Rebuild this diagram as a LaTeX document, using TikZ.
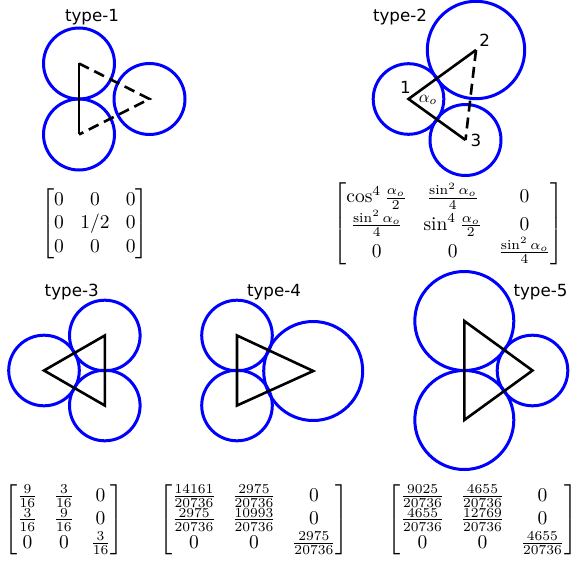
\documentclass[tikz,border=0pt]{standalone}
\usepackage{amsmath}
\usepackage{fontspec}
\newfontfamily\labelfont{DejaVu Sans}
\usepackage{xcolor}
\definecolor{ringblue}{RGB}{0,0,255}
\usepackage{tikz}
\setlength{\arraycolsep}{4.2pt}

\begin{document}
\begin{tikzpicture}[
  x=1pt, y=-1pt,
  ring/.style={draw=ringblue, line width=3pt},
  bond/.style={draw=black, line width=2.6pt},
  gapbond/.style={bond, dash pattern=on 11pt off 6pt},
  title/.style={font=\labelfont\fontsize{16.7}{20}\selectfont, anchor=base, inner sep=0pt},
  vlabel/.style={font=\labelfont\fontsize{16.7}{20}\selectfont, inner sep=0pt},
  mat/.style={scale=1.95, inner sep=0pt},
]
\useasboundingbox (0,0) rectangle (571,572);

% type-1
\coordinate (t1a) at (79,63.5);
\coordinate (t1b) at (79,134.5);
\coordinate (t1c) at (149.5,99);
\draw[ring] (t1a) circle[radius=35.5pt];
\draw[ring] (t1b) circle[radius=35.5pt];
\draw[ring] (t1c) circle[radius=35.5pt];
\draw[bond] (t1a) -- (t1b);
\draw[gapbond] (t1a) -- (t1c) -- (t1b);
\node[title] (lab1) at (92,22) {type-1};
\node[mat] (mat1) at (95,224) {$\begin{bmatrix}0&0&0\\0&1/2&0\\0&0&0\end{bmatrix}$};

% type-2
\coordinate (t2a) at (408.5,99);
\coordinate (t2b) at (476,50);
\coordinate (t2c) at (465.5,140);
\draw[ring] (t2a) circle[radius=35.3pt];
\draw[ring] (t2b) circle[radius=48.7pt];
\draw[ring] (t2c) circle[radius=35.5pt];
\draw[bond] (t2b) -- (t2a) -- (t2c);
\draw[gapbond] (t2b) -- (t2c);
\node[vlabel] (n1) at (405.5,87) {1};
\node[vlabel] (n2) at (484.7,40.3) {2};
\node[vlabel] (n3) at (476,140.5) {3};
\node[scale=1.67, inner sep=0pt] (ang) at (428,100) {$\alpha_o$};
\node[title] (lab2) at (400,22) {type-2};
\node[mat] (mat2) at (448.5,223.5) {$\begin{bmatrix}\cos^4\frac{\alpha_o}{2}&\frac{\sin^2\alpha_o}{4}&0\\\frac{\sin^2\alpha_o}{4}&\sin^4\frac{\alpha_o}{2}&0\\0&0&\frac{\sin^2\alpha_o}{4}\end{bmatrix}$};

% type-3
\coordinate (t3a) at (44,370.5);
\coordinate (t3b) at (104.8,335.5);
\coordinate (t3c) at (104.8,405.5);
\draw[ring] (t3a) circle[radius=35.3pt];
\draw[ring] (t3b) circle[radius=35.3pt];
\draw[ring] (t3c) circle[radius=35.3pt];
\draw[bond] (t3a) -- (t3b) -- (t3c) -- cycle;
\node[title] (lab3) at (71.7,296.5) {type-3};
\node[mat] (mat3) at (64,520) {$\begin{bmatrix}\frac{9}{16}&\frac{3}{16}&0\\\frac{3}{16}&\frac{9}{16}&0\\0&0&\frac{3}{16}\end{bmatrix}$};

% type-4
\coordinate (t4a) at (237,335.5);
\coordinate (t4b) at (237,405.5);
\coordinate (t4c) at (313.2,371);
\draw[ring] (t4a) circle[radius=35.3pt];
\draw[ring] (t4b) circle[radius=35.3pt];
\draw[ring] (t4c) circle[radius=49.5pt];
\draw[bond] (t4a) -- (t4b) -- (t4c) -- cycle;
\node[title] (lab4) at (274,296.5) {type-4};
\node[mat] (mat4) at (254,520) {$\begin{bmatrix}\frac{14161}{20736}&\frac{2975}{20736}&0\\\frac{2975}{20736}&\frac{10993}{20736}&0\\0&0&\frac{2975}{20736}\end{bmatrix}$};

% type-5
\coordinate (t5a) at (464.3,321);
\coordinate (t5b) at (464.3,420);
\coordinate (t5c) at (532.5,370.5);
\draw[ring] (t5a) circle[radius=49.5pt];
\draw[ring] (t5b) circle[radius=49.5pt];
\draw[ring] (t5c) circle[radius=35.3pt];
\draw[bond] (t5a) -- (t5b) -- (t5c) -- cycle;
\node[title] (lab5) at (540.5,296) {type-5};
\node[mat] (mat5) at (482.5,520) {$\begin{bmatrix}\frac{9025}{20736}&\frac{4655}{20736}&0\\\frac{4655}{20736}&\frac{12769}{20736}&0\\0&0&\frac{4655}{20736}\end{bmatrix}$};
\end{tikzpicture}
\end{document}
